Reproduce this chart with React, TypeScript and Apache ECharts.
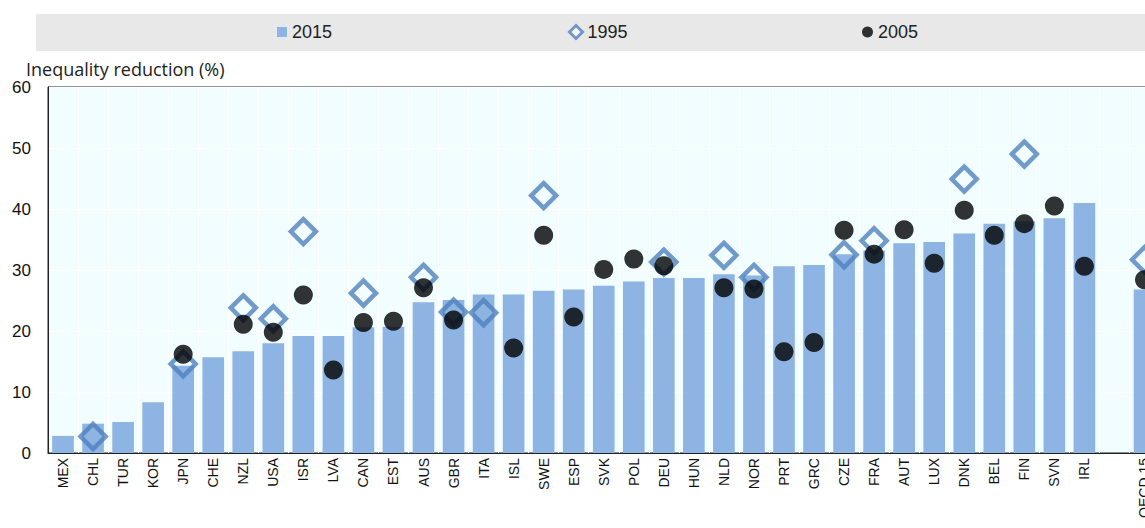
import React, { useEffect, useRef } from "react";
import * as echarts from "echarts";

const categories = ["MEX","CHL","TUR","KOR","JPN","CHE","NZL","USA","ISR","LVA","CAN","EST","AUS","GBR","ITA","ISL","SWE","ESP","SVK","POL","DEU","HUN","NLD","NOR","PRT","GRC","CZE","FRA","AUT","LUX","DNK","BEL","FIN","SVN","IRL","","OECD 15"];

const v2015 = [2.8,4.8,5.1,8.3,14.3,15.7,16.7,18.0,19.2,19.2,20.6,20.7,24.7,25.1,26.0,26.0,26.6,26.8,27.4,28.1,28.7,28.7,29.3,29.1,30.6,30.8,32.6,33.2,34.4,34.6,36.0,37.6,38.0,38.5,41.0,null,26.8];

const v1995 = [null,2.7,null,null,14.6,null,23.8,22.0,36.3,null,26.2,null,28.8,23.1,23.0,null,42.2,null,null,null,31.3,null,32.4,28.8,null,null,32.5,34.8,null,null,44.9,null,49.0,null,null,null,31.7];

const v2005 = [null,null,null,null,16.2,null,21.1,19.8,25.9,13.6,21.4,21.6,27.1,21.8,null,17.2,35.7,22.3,30.1,31.8,30.7,null,27.1,26.9,16.6,18.1,36.5,32.6,36.6,31.1,39.8,35.7,37.6,40.5,30.6,null,28.4];

const yTicks = { min: 0, max: 60, interval: 10 };

const BAR = "#8EB4E3";
const DIAMOND = "#4F81BD";
const TICK_FONT = "'Liberation Sans', Arial, sans-serif";

export default function App() {
  const ref = useRef<HTMLDivElement>(null);
  useEffect(() => {
    if (!ref.current) return;
    const chart = echarts.init(ref.current, undefined, { renderer: "svg" });
    const legendText = { fontSize: 18, fontFamily: TICK_FONT, color: "#222" };
    chart.setOption({
      animation: false,
      backgroundColor: "#ffffff",
      graphic: [
        { type: "rect", z: -10, shape: { x: 36, y: 14, width: 1200, height: 37 }, style: { fill: "#E8E8E8" } },
        { type: "text", x: 26, y: 69, style: { text: "Inequality reduction (%)", fontSize: 18, fontFamily: "'Open Sans', sans-serif", fill: "#222", textVerticalAlign: "middle" } },
      ],
      legend: [
        { left: 277, top: 23, padding: 0, itemWidth: 10, itemHeight: 10, textStyle: legendText, data: [{ name: "2015", icon: "rect" }] },
        { left: 568, top: 23, padding: 0, itemWidth: 13, itemHeight: 13, textStyle: legendText, data: [{ name: "1995", icon: "diamond", itemStyle: { color: "#ffffff", borderColor: DIAMOND, borderWidth: 3 } }] },
        { left: 862, top: 23, padding: 0, itemWidth: 11, itemHeight: 11, textStyle: legendText, data: [{ name: "2005", icon: "circle" }] },
      ],
      grid: {
        left: 48, top: 87, width: 1111.5, height: 366,
        show: true, backgroundColor: "#F1FDFF", borderColor: "#222", borderWidth: 1,
      },
      xAxis: {
        type: "category",
        data: categories,
        boundaryGap: true,
        axisLine: { lineStyle: { color: "#222", width: 1 } },
        axisTick: { show: false },
        splitLine: { show: true, lineStyle: { color: "#ffffff", width: 1 } },
        axisLabel: { rotate: 90, interval: 0, margin: 5, fontSize: 14, fontFamily: TICK_FONT, color: "#111" },
      },
      yAxis: {
        type: "value",
        min: yTicks.min, max: yTicks.max, interval: yTicks.interval,
        axisLine: { show: true, lineStyle: { color: "#222", width: 1 } },
        axisTick: { show: false },
        splitLine: { show: true, lineStyle: { color: "#ffffff", width: 1 } },
        axisLabel: { margin: 17, fontSize: 17, fontFamily: TICK_FONT, color: "#111" },
      },
      series: [
        { name: "2015", type: "bar", data: v2015, barCategoryGap: "28%", itemStyle: { color: BAR }, z: 2 },
        { name: "1995", type: "scatter", data: v1995, symbol: "diamond", symbolSize: 25, itemStyle: { color: "rgba(0,0,0,0)", borderColor: DIAMOND, borderWidth: 4.5 }, z: 3 },
        { name: "2005", type: "scatter", data: v2005, symbol: "circle", symbolSize: 19, itemStyle: { color: "#000000" }, z: 4 },
      ],
    });
    return () => chart.dispose();
  }, []);
  return (
    <div style={{ position: "absolute", left: 0, top: 0, width: 1145, height: 528, overflow: "hidden", background: "#fff" }}>
      <div ref={ref} style={{ width: 1200, height: 528 }} />
    </div>
  );
}
